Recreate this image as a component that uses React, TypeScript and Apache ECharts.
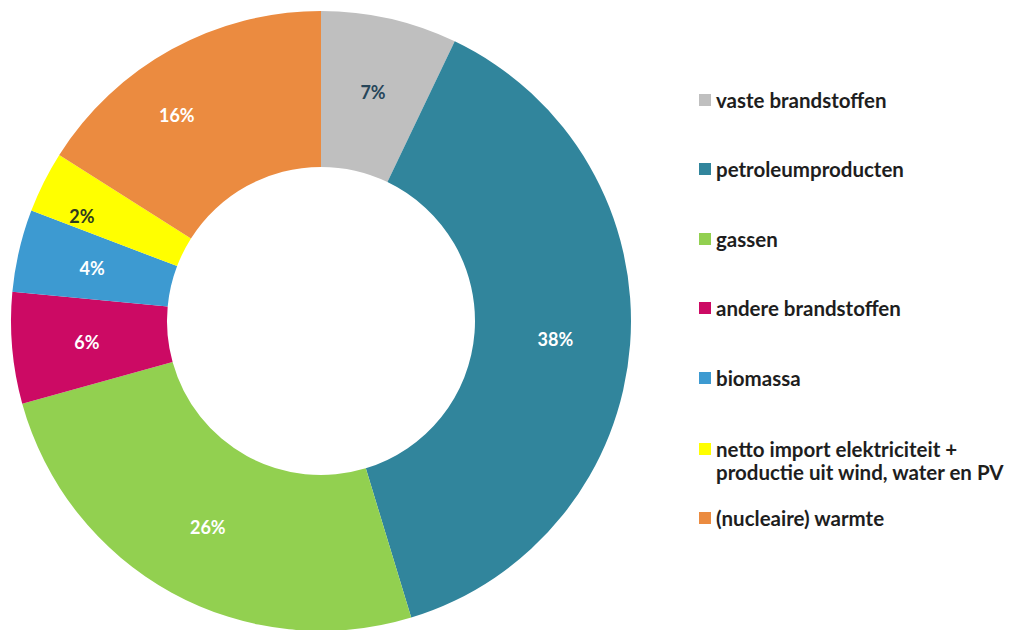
import React, { useEffect, useRef } from "react";
import * as echarts from "echarts";

const categories = [
  "vaste brandstoffen",
  "petroleumproducten",
  "gassen",
  "andere brandstoffen",
  "biomassa",
  "netto import elektriciteit +\nproductie uit wind, water en PV",
  "(nucleaire) warmte",
];
// shares (%)
const shares = [7.1, 38.2, 25.4, 5.8, 4.3, 3.2, 16.0];
// percentages as printed on the slices
const printedShares = [7, 38, 26, 6, 4, 2, 16];
const colors = ["#BFBFBF", "#31859C", "#92D050", "#CC0A64", "#3D9AD1", "#FFFF00", "#EB8B40"];
const labelColors = ["#27465A", "#FFFFFF", "#FFFFFF", "#FFFFFF", "#FFFFFF", "#2E3A1E", "#FFFFFF"];

const FONT = "Lato, 'Open Sans', 'Liberation Sans', sans-serif";

export default function App() {
  const ref = useRef<HTMLDivElement>(null);
  useEffect(() => {
    if (!ref.current) return;
    const chart = echarts.init(ref.current, undefined, { renderer: "svg" });

    const labelPads: Record<number, number[]> = {
      5: [0, 58, 22, 0],
      6: [0, 62, 60, 0],
    };

    const data = categories.map((name, i) => ({
      name,
      value: shares[i],
      itemStyle: { color: colors[i] },
      label: {
        color: labelColors[i],
        padding: labelPads[i] || 0,
      },
    }));

    const legendCenters = [100, 169, 239, 308, 378, 449, 518];
    const legends = categories.map((name, i) => {
      const twoLine = name.indexOf("\n") >= 0;
      const lh = twoLine ? 23 : 24;
      return {
        left: 699,
        top: twoLine ? legendCenters[i] - 34.5 : legendCenters[i] - lh / 2,
        padding: 0,
        orient: "vertical",
        itemWidth: 12,
        itemHeight: 12,
        itemGap: 0,
        icon: "rect",
        selectedMode: false,
        formatter: twoLine ? (n: string) => " \n" + n : undefined,
        data: [{ name }],
        textStyle: {
          fontFamily: FONT,
          fontWeight: "bold",
          fontSize: 20.5,
          color: "#1E1E1E",
          lineHeight: lh,
        },
      };
    });

    chart.setOption({
      animation: false,
      backgroundColor: "#FFFFFF",
      legend: legends,
      series: [
        {
          type: "pie",
          center: [321, 321],
          radius: [154, 310],
          startAngle: 90,
          clockwise: true,
          avoidLabelOverlap: false,
          silent: true,
          label: {
            show: true,
            position: "inside",
            fontFamily: FONT,
            fontWeight: "bold",
            fontSize: 18,
            formatter: (p: any) => printedShares[p.dataIndex] + "%",
          },
          labelLine: { show: false },
          itemStyle: { borderWidth: 0 },
          emphasis: { disabled: true },
          data,
        },
      ],
    });
    return () => chart.dispose();
  }, []);

  return (
    <div
      ref={ref}
      style={{ position: "fixed", left: 0, top: 0, width: 1009, height: 630 }}
    />
  );
}
